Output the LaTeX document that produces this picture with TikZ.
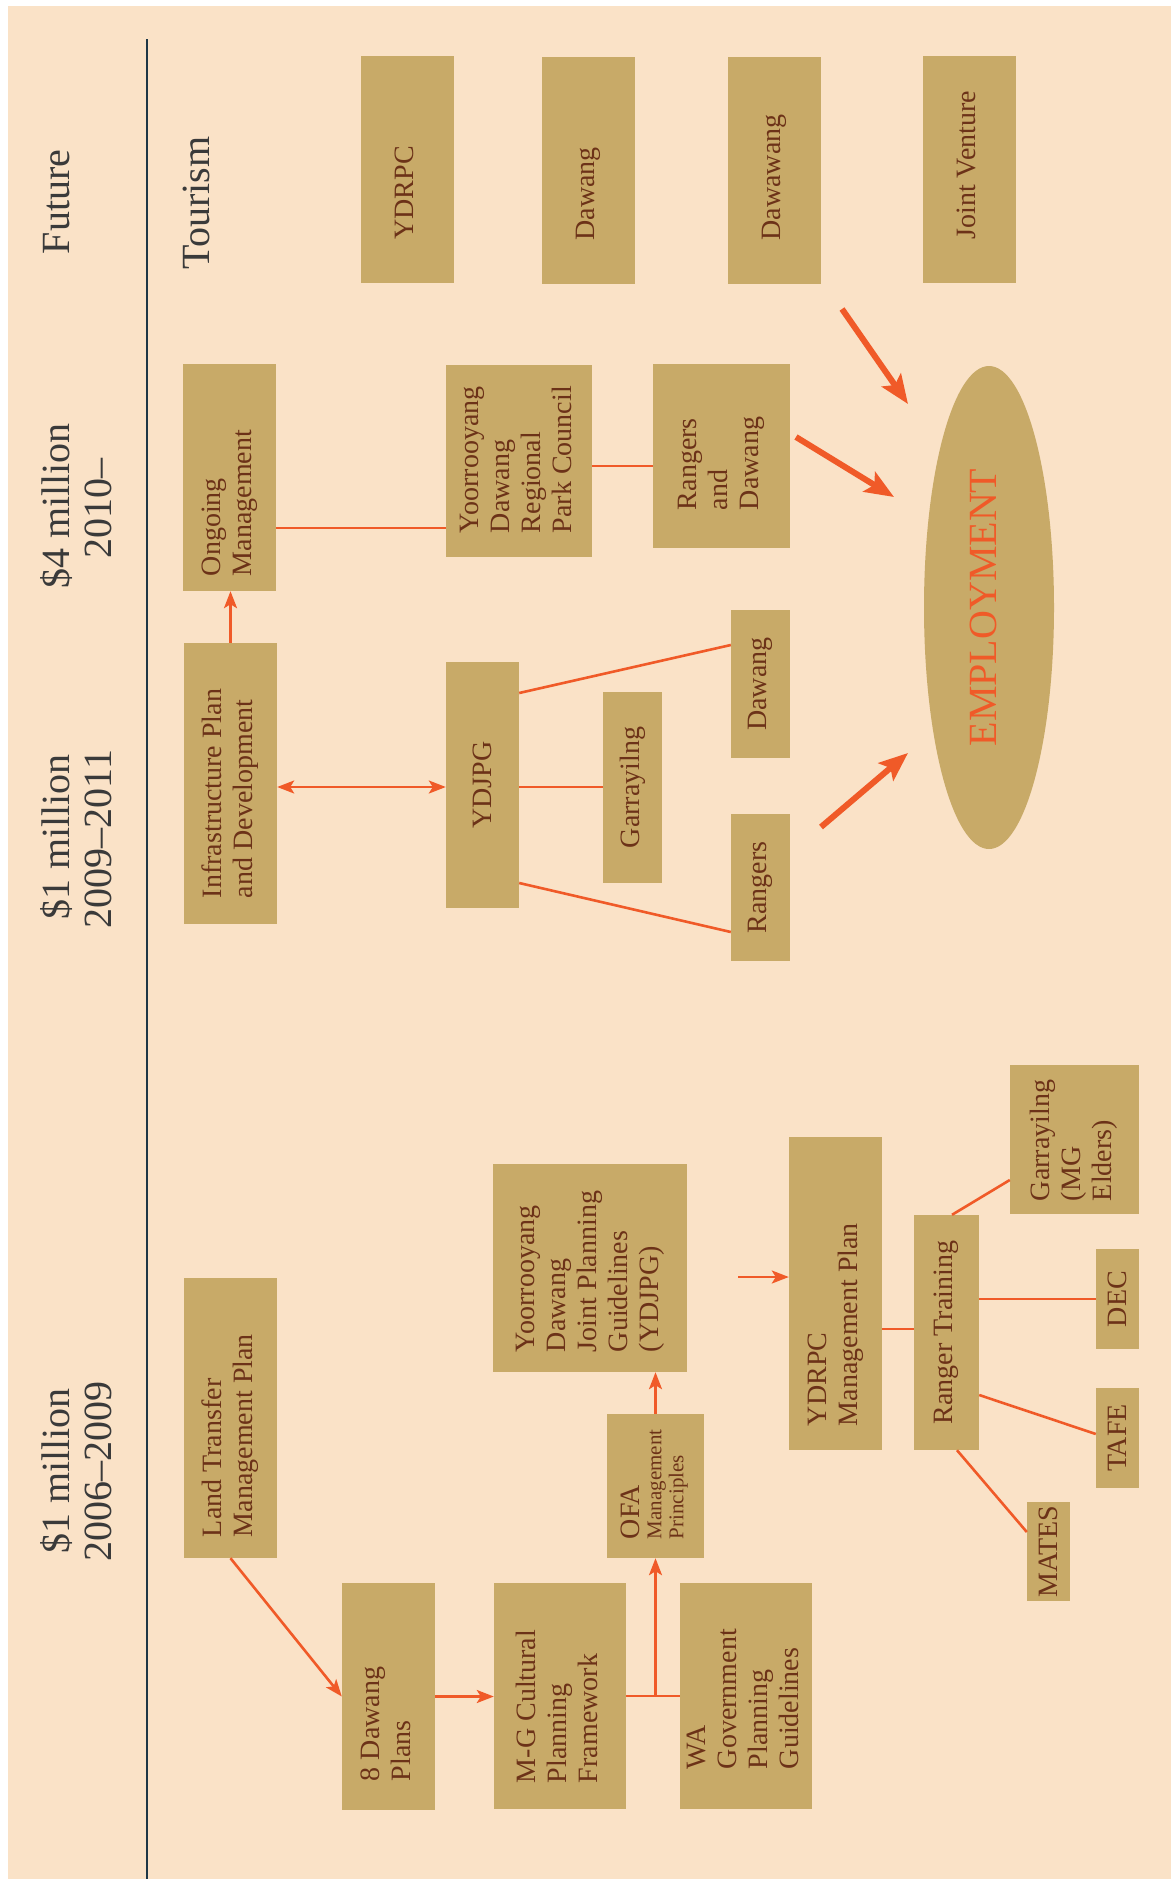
\documentclass[tikz,border=0pt]{standalone}
\usepackage{fontspec}
\setmainfont{Liberation Serif}
\usepackage{graphicx}
\usetikzlibrary{shapes.geometric,arrows.meta,calc}
\definecolor{bgc}{RGB}{250,226,199}
\definecolor{boxc}{RGB}{200,170,104}
\definecolor{txtc}{RGB}{108,50,24}
\definecolor{linec}{RGB}{240,90,40}
\definecolor{hdrc}{RGB}{58,58,58}
\definecolor{vlinec}{RGB}{30,55,70}
\newcommand\vt[2]{\rotatebox{90}{\makebox[#1pt][l]{\begin{tabular}{@{}l@{}}#2\end{tabular}}}}
\newcommand\vc[1]{\rotatebox{90}{#1}}
\begin{document}
\begin{tikzpicture}[x=1pt,y=-1pt,
 box/.style={fill=boxc, inner sep=0pt, text=txtc, font=\fontsize{28}{31}\selectfont},
 hdr/.style={rotate=90, anchor=base, text=hdrc, font=\fontsize{40}{42}\selectfont, inner sep=0pt},
 conn/.style={draw=linec, line width=2.6pt},
 arr/.style={conn, -{Stealth[length=17pt,width=13pt,inset=4pt]}},
 darr/.style={conn, {Stealth[length=17pt,width=13pt,inset=4pt]}-{Stealth[length=17pt,width=13pt,inset=4pt]}},
 big/.style={draw=linec, line width=6pt, -{Stealth[length=29pt,width=23pt,inset=6pt]}}]
\useasboundingbox (0,0) rectangle (1171,1879);
\fill[white] (0,0) rectangle (1171,1879);
\fill[bgc] (8,6) rectangle (1171,1879);
\draw[vlinec, line width=1.8pt] (147,39) -- (147,1879);

% headers
\node[hdr] (hfut) at (69,202) {Future};
\node[hdr] (h4a) at (69,506) {\$4 million};
\node[hdr] (h4b) at (111,508) {2010–};
\node[hdr] (h1a) at (69,837) {\$1 million};
\node[hdr] (h1b) at (111,839) {2009–2011};
\node[hdr] (h0a) at (69,1471) {\$1 million};
\node[hdr] (h0b) at (111,1471) {2006–2009};
\node[hdr] (htour) at (209,203) {Tourism};

% tourism boxes
\node[box, minimum width=93pt, minimum height=227pt] (tyd) at (407.5,169.5) {\vt{140}{YDRPC}};
\node[box, minimum width=93pt, minimum height=227pt] (tdaw) at (588.5,170.5) {\vt{140}{Dawang}};
\node[box, minimum width=93pt, minimum height=227pt] (tdww) at (774.5,170.5) {\vt{140}{Dawawang}};
\node[box, minimum width=93pt, minimum height=227pt] (tjv) at (969.5,169.5) {\vt{140}{Joint Venture}};

% 2010 column
\node[box, minimum width=93pt, minimum height=227pt] (ong) at (229.5,477.5) {\vt{197}{Ongoing\\Management}};
\node[box, minimum width=146pt, minimum height=192pt] (cnc) at (519,461) {\vt{144}{Yoorrooyang\\Dawang\\Regional\\Park Council}};
\node[box, minimum width=137pt, minimum height=184pt] (rnd) at (721.5,456) {\vt{108}{Rangers\\and\\Dawang}};

% 2009 column
\node[box, minimum width=93pt, minimum height=281pt] (inf) at (230.5,783.5) {\vt{229}{Infrastructure Plan\\and Development}};
\node[box, minimum width=73pt, minimum height=246pt] (ydj) at (482.5,785) {\vc{YDJPG}};
\node[box, minimum width=59pt, minimum height=191pt] (gar) at (632.5,787.5) {\vc{Garrayilng}};
\node[box, minimum width=59pt, minimum height=148pt] (daw) at (760.5,684) {\vc{Dawang}};
\node[box, minimum width=59pt, minimum height=147pt] (rng) at (760.5,887.5) {\vc{Rangers}};

% employment
\node[ellipse, fill=boxc, minimum width=130pt, minimum height=483pt, inner sep=0pt, text=linec, font=\fontsize{40}{44}\selectfont] (emp) at (989,607.5) {\rotatebox{90}{\raisebox{0pt}[\height][\dimexpr\depth+11pt\relax]{EMPLOYMENT}}};

% 2006 column
\node[box, minimum width=93pt, minimum height=280pt] (lt) at (230.5,1418) {\vt{238}{Land Transfer\\Management Plan}};
\node[box, minimum width=194pt, minimum height=208pt] (yjp) at (590,1268) {\vt{168}{Yoorrooyang\\Dawang\\Joint Planning\\Guidelines\\(YDJPG)}};
\node[box, minimum width=93pt, minimum height=227pt] (edp) at (388.5,1696.5) {\vt{169}{8 Dawang\\Plans}};
\node[box, minimum width=132pt, minimum height=226pt] (mgc) at (560,1696) {\vt{174}{M-G Cultural\\Planning\\Framework}};
\node[box, minimum width=132pt, minimum height=226pt] (wag) at (746,1696) {\vt{146}{WA\\Government\\Planning\\Guidelines}};
\node[box, minimum width=97pt, minimum height=144pt, font=\fontsize{21}{22}\selectfont] (ofa) at (655.5,1486) {\vt{106}{{\fontsize{28}{22}\selectfont OFA}\\Management\\Principles}};
\node[box, minimum width=93pt, minimum height=313pt] (ymp) at (835.5,1293.5) {\vt{265}{YDRPC\\Management Plan}};
\node[box, minimum width=65pt, minimum height=235pt] (rtr) at (946.5,1332.5) {\vc{Ranger Training}};
\node[box, minimum width=129pt, minimum height=149pt] (gmg) at (1074.5,1139.5) {\vt{123}{Garrayilng\\(MG\\Elders)}};
\node[box, minimum width=43pt, minimum height=100pt] (dec) at (1117.5,1299) {\vc{DEC}};
\node[box, minimum width=43pt, minimum height=100pt] (taf) at (1117.5,1438) {\vc{TAFE}};
\node[box, minimum width=43pt, minimum height=99pt] (mat) at (1048.5,1551.5) {\vc{MATES}};

% connectors 2010
\draw[conn] (ong.east |- 0,528) -- (cnc.west |- 0,528);
\draw[conn] (cnc.east |- 0,466) -- (rnd.west |- 0,466);
\draw[arr] (inf.north) -- (inf.north |- ong.south);
% 2009
\draw[darr] (inf.east |- 0,787) -- (ydj.west |- 0,787);
\draw[conn] (ydj.east |- 0,693) -- (daw.west |- 0,645);
\draw[conn] (ydj.east |- 0,787) -- (gar.west |- 0,787);
\draw[conn] (ydj.east |- 0,883) -- (rng.west |- 0,932);
% 2006
\draw[arr] (lt.south) -- (edp.west);
\draw[arr] (edp.east) -- (edp.east -| mgc.west);
\draw[conn] (mgc.east) -- (mgc.east -| wag.west);
\draw[arr] (ofa.south |- mgc.east) -- (ofa.south);
\draw[arr] (ofa.north) -- (ofa.north |- yjp.south);
\coordinate (fr) at (738,1277);
\draw[arr] (fr) -- (fr -| ymp.west);
\draw[conn] (ymp.east |- 0,1329) -- (rtr.west |- 0,1329);
\draw[conn] (rtr.north -| 952,0) -- (gmg.west |- 0,1180);
\draw[conn] (rtr.east |- 0,1299) -- (dec.west |- 0,1299);
\draw[conn] (rtr.east |- 0,1395) -- (taf.west |- 0,1434);
\draw[conn] (rtr.south -| 957,0) -- (mat.west |- 0,1532);

% big arrows to employment
\coordinate (a1s) at (842,309); \coordinate (a1e) at (908,404);
\coordinate (a2s) at (796,437); \coordinate (a2e) at (894,497);
\coordinate (a3s) at (821,827); \coordinate (a3e) at (908,753);
\draw[big] (a1s) -- (a1e);
\draw[big] (a2s) -- (a2e);
\draw[big] (a3s) -- (a3e);
\end{tikzpicture}
\end{document}
